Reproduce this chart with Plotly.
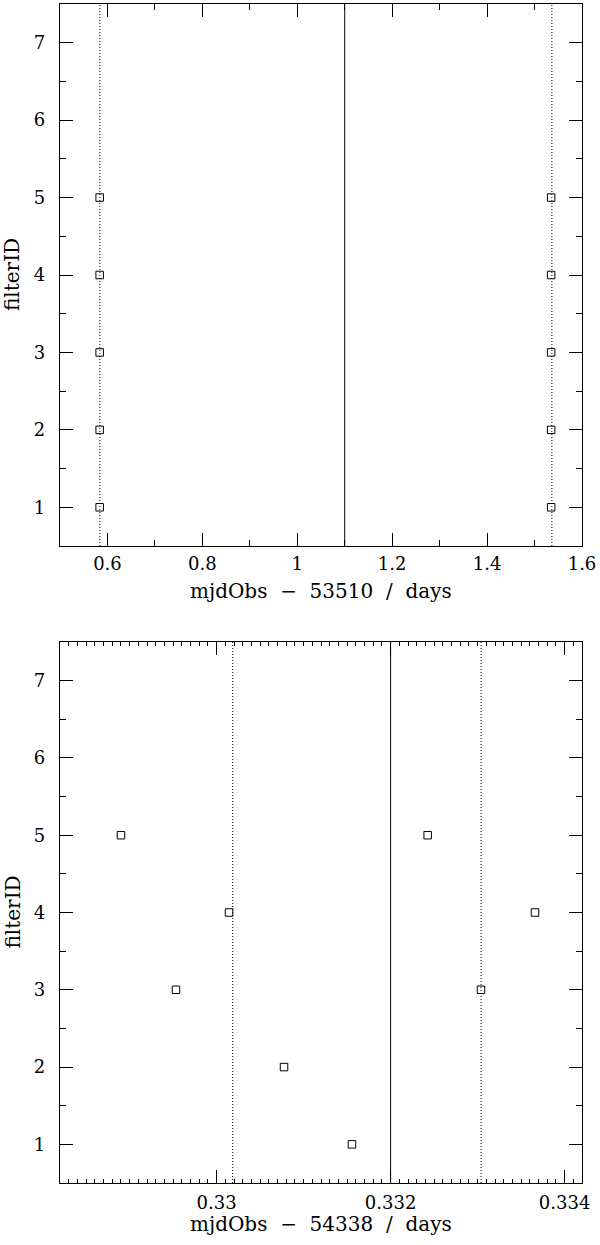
import plotly.graph_objects as go

# ---- data -------------------------------------------------------------
filter_ids = [1, 2, 3, 4, 5]

# night 1 (mjdObs - 53510)
top_x_a = [0.5836, 0.5836, 0.5836, 0.5836, 0.5836]
top_x_b = [1.5350, 1.5350, 1.5350, 1.5350, 1.5350]
top_dotted = [0.584, 1.5365]
top_solid = [1.1]

# night 2 (mjdObs - 54338)
bot_x_a = [0.331556, 0.330775, 0.329533, 0.330143, 0.328901]
bot_x_b_ids = [3, 4, 5]
bot_x_b = [0.333039, 0.333660, 0.332426]
bot_dotted = [0.330185, 0.333040]
bot_solid = [0.332]

top_xticks = [0.6, 0.8, 1.0, 1.2, 1.4, 1.6]
top_xticktext = ["0.6", "0.8", "1", "1.2", "1.4", "1.6"]
bot_xticks = [0.330, 0.332, 0.334]
bot_xticktext = ["0.33", "0.332", "0.334"]
yticks = [1, 2, 3, 4, 5, 6, 7]
yticktext = ["1", "2", "3", "4", "5", "6", "7"]

top_xrange = [0.5, 1.6]
bot_xrange = [0.3282, 0.3342]
yrange = [0.5, 7.5]

# minor tick spacing
top_xminor_step = 0.1
bot_xminor_step = 0.0001
y_minor_step = 0.5

NB = "\u00a0"
xtitle_top = f"mjdObs{NB} −{NB} 53510{NB} /{NB} days"
xtitle_bot = f"mjdObs{NB} −{NB} 54338{NB} /{NB} days"
ytitle = "filterID"

# ---- figure -----------------------------------------------------------
FONT = "DejaVu Serif"
W, H = 600, 1245
ML, MR, MT, MB = 60, 18, 4, 62
PH = H - MT - MB

fig = go.Figure()


def vline(xs, dash, xa, ya):
    for xv in xs:
        fig.add_trace(go.Scatter(x=[xv, xv], y=yrange, mode="lines",
                                 line=dict(color="black", width=1, dash=dash),
                                 xaxis=xa, yaxis=ya, hoverinfo="skip"))


def squares(xs, ys, xa, ya):
    fig.add_trace(go.Scatter(x=xs, y=ys, mode="markers",
                             marker=dict(symbol="square-open", size=7.5,
                                         color="black", line=dict(width=1)),
                             xaxis=xa, yaxis=ya))


vline(top_dotted, "1px,2px", "x", "y")
vline(top_solid, "solid", "x", "y")
squares(top_x_a, filter_ids, "x", "y")
squares(top_x_b, filter_ids, "x", "y")

vline(bot_dotted, "1px,2px", "x2", "y2")
vline(bot_solid, "solid", "x2", "y2")
squares(bot_x_a, filter_ids, "x2", "y2")
squares(bot_x_b, bot_x_b_ids, "x2", "y2")

# empty traces for the stacked minor-tick subplots
for xa, ya in [("x3", "y3"), ("x4", "y4")]:
    fig.add_trace(go.Scatter(x=[], y=[], xaxis=xa, yaxis=ya,
                             hoverinfo="skip"))


def px_to_paper(ypx):
    return (H - MB - ypx) / PH


axis_common = dict(showgrid=False, zeroline=False, showline=True,
                   linecolor="black", linewidth=1.3, mirror="ticks",
                   ticks="inside", tickcolor="black", tickwidth=1,
                   ticklen=13,
                   tickfont=dict(family=FONT, size=18, color="black"))


def minor_axis(domain, anchor, rng, tick0, step, length):
    # tick-only axis on the same frame: short ticks on both edges
    return dict(domain=domain, anchor=anchor, range=rng,
                showgrid=False, zeroline=False, showline=True,
                linecolor="black", linewidth=1.3,
                mirror="ticks", ticks="inside", tickcolor="black",
                tickwidth=1, ticklen=length, showticklabels=False,
                tickmode="linear", tick0=tick0, dtick=step)


top_dom = [px_to_paper(546), px_to_paper(4)]
bot_dom = [px_to_paper(1183), px_to_paper(642)]

fig.update_layout(
    width=W, height=H,
    margin=dict(l=ML, r=MR, t=MT, b=MB),
    paper_bgcolor="white", plot_bgcolor="rgba(0,0,0,0)",
    showlegend=False,
    xaxis=dict(axis_common, domain=[0, 1], anchor="y", range=top_xrange,
               tickmode="array", tickvals=top_xticks, ticktext=top_xticktext,
               ticklabelstandoff=1),
    yaxis=dict(axis_common, domain=top_dom, anchor="x", range=yrange,
               tickmode="array", tickvals=yticks, ticktext=yticktext,
               ticklabelstandoff=10),
    xaxis2=dict(axis_common, domain=[0, 1], anchor="y2", range=bot_xrange,
                tickmode="array", tickvals=bot_xticks, ticktext=bot_xticktext,
                ticklabelstandoff=3),
    yaxis2=dict(axis_common, domain=bot_dom, anchor="x2", range=yrange,
                tickmode="array", tickvals=yticks, ticktext=yticktext,
                ticklabelstandoff=10),
    xaxis3=minor_axis([0, 1], "y3", top_xrange, 0.5, top_xminor_step, 6),
    yaxis3=minor_axis(top_dom, "x3", yrange, 0.5, y_minor_step, 6),
    xaxis4=minor_axis([0, 1], "y4", bot_xrange, 0.328, bot_xminor_step, 4),
    yaxis4=minor_axis(bot_dom, "x4", yrange, 0.5, y_minor_step, 6),
)

title_font = dict(family=FONT, size=20, color="black")
for text, ypx in [(xtitle_top, 591), (xtitle_bot, 1224)]:
    fig.add_annotation(text=text, xref="paper", yref="paper",
                       x=0.5, y=px_to_paper(ypx), xanchor="center",
                       yanchor="middle", showarrow=False, font=title_font)
for ypx in [275, 912.5]:
    fig.add_annotation(text=ytitle, xref="paper", yref="paper",
                       x=(12 - ML) / (W - ML - MR), y=px_to_paper(ypx),
                       xanchor="center", yanchor="middle", textangle=-90,
                       showarrow=False, font=title_font)

fig.write_html("out.html")
